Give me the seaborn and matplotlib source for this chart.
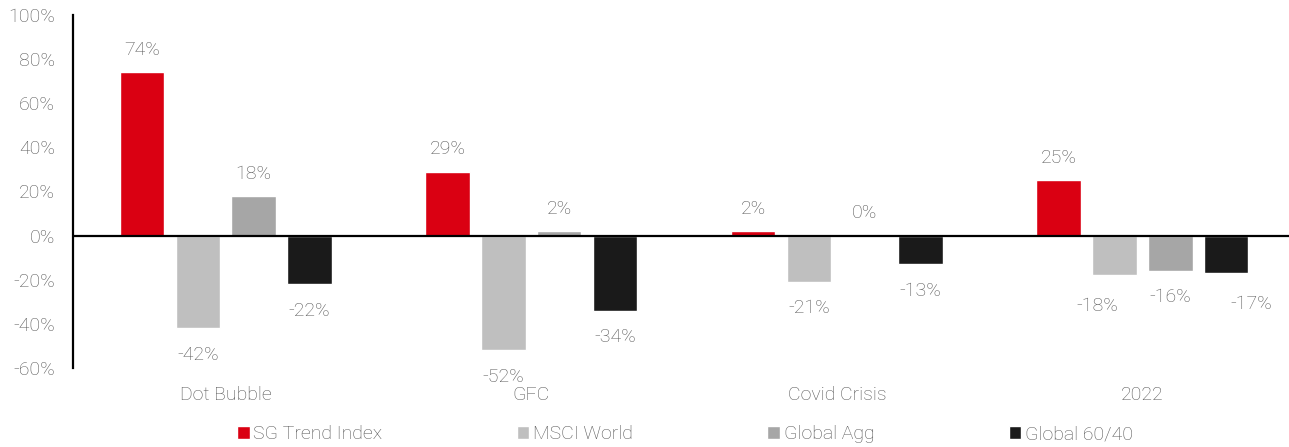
import matplotlib
matplotlib.use("Agg")
import matplotlib.pyplot as plt
import matplotlib.font_manager as fm
import seaborn as sns
import pandas as pd
import numpy as np

categories = ["Dot Bubble", "GFC", "Covid Crisis", "2022"]
series = ["SG Trend Index", "MSCI World", "Global Agg", "Global 60/40"]
sg_trend = [74, 29, 2, 25]
msci_world = [-42, -52, -21, -18]
global_agg = [18, 2, 0, -16]
global_6040 = [-22, -34, -13, -17]
yticks = [-60, -40, -20, 0, 20, 40, 60, 80, 100]

colors = ["#DA0012", "#BFBFBF", "#A6A6A6", "#1A1A1A"]
text_color = "#555555"

sns.set_theme(style="white")
avail = {f.name for f in fm.fontManager.ttflist}
fam = [f for f in ["Roboto", "Liberation Sans", "DejaVu Sans"] if f in avail]
plt.rcParams["font.family"] = fam
FW = "light"
FS = 14

rows = []
for s, vals in zip(series, [sg_trend, msci_world, global_agg, global_6040]):
    for c, v in zip(categories, vals):
        rows.append({"category": c, "series": s, "value": v})
df = pd.DataFrame(rows)

fig = plt.figure(figsize=(12.89, 4.47), dpi=100)
ax = fig.add_axes([73 / 1289, 1 - 368 / 447, 1 - 73 / 1289, (368 - 15) / 447])

sns.barplot(data=df, x="category", y="value", hue="series", order=categories,
            hue_order=series, palette=colors, width=0.73, gap=0.2,
            saturation=1, ax=ax, legend=True, errorbar=None)

ax.set_ylim(-60, 100)
ax.set_xlim(-0.5, 3.48)
ax.set_yticks(yticks)
ax.set_yticklabels([f"{t}%" for t in yticks])
ax.tick_params(axis="y", length=0, pad=13, labelsize=FS, labelcolor=text_color)
ax.tick_params(axis="x", length=0, pad=13, labelsize=FS, labelcolor=text_color)
for lab in ax.get_xticklabels() + ax.get_yticklabels():
    lab.set_fontweight(FW)
ax.set_xlabel("")
ax.set_ylabel("")
for sp in ["top", "right", "bottom"]:
    ax.spines[sp].set_visible(False)
ax.spines["left"].set_color("black")
ax.spines["left"].set_linewidth(1.6)
ax.axhline(0, color="black", lw=1.6, zorder=3)

# label nudges (points) to mimic reference manual placement
nudge = {("2022", "MSCI World"): (-12, -3), ("2022", "Global 60/40"): (18, -3)}

for cont, s in zip(ax.containers, series):
    for bar, c in zip(cont, categories):
        v = df[(df.series == s) & (df.category == c)].value.iloc[0]
        x = bar.get_x() + bar.get_width() / 2
        dx, dy = nudge.get((c, s), (0, 0))
        if v >= 0:
            off = (dx, 16 + dy)
            y = bar.get_y() + bar.get_height() if bar.get_height() > 0 else 0
        else:
            off = (dx, -19 + dy)
            y = v
        ax.annotate(f"{v}%", (x, y), xytext=off, textcoords="offset points",
                    ha="center", va="center", fontsize=FS, color=text_color,
                    fontweight=FW)

leg = ax.legend(loc="upper center", bbox_to_anchor=(0.5 + 4 / 1216, -0.14), ncol=4,
                frameon=False, fontsize=FS, handlelength=0.65, handleheight=0.65,
                handletextpad=0.2, columnspacing=6.9, borderaxespad=0)
for t in leg.get_texts():
    t.set_color(text_color)
    t.set_fontweight(FW)

fig.savefig("out.png", dpi=100)
